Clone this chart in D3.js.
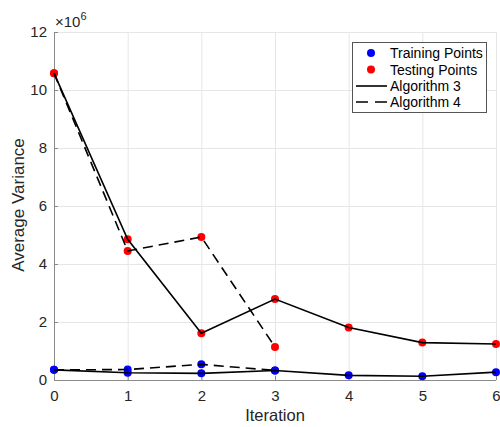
<!DOCTYPE html>
<html>
<head>
<meta charset="utf-8">
<script src="https://cdn.jsdelivr.net/npm/d3@7"></script>
<style>
  html, body { margin: 0; padding: 0; background: #fff; }
  svg { display: block; font-family: "Liberation Sans", Arial, Helvetica, sans-serif; }
</style>
</head>
<body>
<svg id="chart" width="500" height="427"></svg>
<script>
// Average variance (in units of 1e6) per iteration
const iterations = [0, 1, 2, 3, 4, 5, 6];
const alg3Testing = [10.58, 4.85, 1.61, 2.79, 1.81, 1.29, 1.24];
const alg3Training = [0.35, 0.25, 0.23, 0.33, 0.16, 0.13, 0.27];
const alg4Iterations = [0, 1, 2, 3];
const alg4Testing = [10.58, 4.45, 4.93, 1.14];
const alg4Training = [0.35, 0.36, 0.54, 0.33];

const xTicks = [0, 1, 2, 3, 4, 5, 6];
const yTicks = [0, 2, 4, 6, 8, 10, 12];
const legendLabels = ["Training Points", "Testing Points", "Algorithm 3", "Algorithm 4"];

const svg = d3.select("#chart");
const plotLeft = 54, plotRight = 496, plotTop = 32, plotBottom = 380;

const x = d3.scaleLinear().domain([0, 6]).range([plotLeft, plotRight]);
const y = d3.scaleLinear().domain([0, 12]).range([plotBottom, plotTop]);

const textColor = "#262626";
const dash = "10,6";

// grid
const grid = svg.append("g");
grid.selectAll(".gx").data(xTicks).enter().append("line")
  .attr("x1", d => x(d) + 0.5).attr("x2", d => x(d) + 0.5)
  .attr("y1", plotTop).attr("y2", plotBottom)
  .attr("stroke", "#e6e6e6").attr("stroke-width", 1);
grid.selectAll(".gy").data(yTicks).enter().append("line")
  .attr("x1", plotLeft).attr("x2", plotRight)
  .attr("y1", d => y(d) + 0.5).attr("y2", d => y(d) + 0.5)
  .attr("stroke", "#e6e6e6").attr("stroke-width", 1);

// axes
const xAxis = d3.axisBottom(x).tickValues(xTicks).tickSize(-4).tickPadding(10).tickFormat(d3.format("d"));
const yAxis = d3.axisLeft(y).tickValues(yTicks).tickSize(-4).tickPadding(7).tickFormat(d3.format("d"));

const gx = svg.append("g").attr("transform", `translate(0,${plotBottom})`).call(xAxis);
const gy = svg.append("g").attr("transform", `translate(${plotLeft},0)`).call(yAxis);
[gx, gy].forEach(g => {
  g.select(".domain").attr("stroke", "#8a8a8a").attr("stroke-width", 1);
  g.selectAll(".tick line").attr("stroke", "#8a8a8a");
  g.selectAll(".tick text").attr("fill", textColor).attr("font-size", 15)
    .attr("font-family", "Liberation Sans, Arial, sans-serif");
});
gx.select(".domain").attr("d", `M${plotLeft},0.5H${plotRight}`);
gy.select(".domain").attr("d", `M0.5,${plotBottom}V${plotTop}`);

// exponent label
const expo = svg.append("text").attr("x", 55).attr("y", 27)
  .attr("fill", textColor).attr("font-size", 15);
expo.append("tspan").text("×10");
expo.append("tspan").attr("dy", -7).attr("font-size", 11).text("6");

// axis titles
svg.append("text").attr("x", (plotLeft + plotRight) / 2).attr("y", 421)
  .attr("text-anchor", "middle").attr("fill", textColor).attr("font-size", 16.5)
  .text("Iteration");
svg.append("text")
  .attr("transform", `translate(24,${(plotTop + plotBottom) / 2 - 1}) rotate(-90)`)
  .attr("text-anchor", "middle").attr("fill", textColor).attr("font-size", 17)
  .text("Average Variance");

// points
const plot = svg.append("g");
function dots(xs, ys, color) {
  plot.selectAll(null).data(ys).enter().append("circle")
    .attr("cx", (d, i) => x(xs[i])).attr("cy", d => y(d))
    .attr("r", 4).attr("fill", color);
}
dots(iterations, alg3Training, "#0000ff");
dots(alg4Iterations, alg4Training, "#0000ff");
dots(iterations, alg3Testing, "#ff0000");
dots(alg4Iterations, alg4Testing, "#ff0000");

// lines
const line = d3.line().x(d => x(d[0])).y(d => y(d[1]));
function path(xs, ys, dashed) {
  plot.append("path").datum(xs.map((v, i) => [v, ys[i]]))
    .attr("d", line).attr("fill", "none").attr("stroke", "#000")
    .attr("stroke-width", 1.6)
    .attr("stroke-dasharray", dashed ? dash : null);
}
path(iterations, alg3Testing, false);
path(iterations, alg3Training, false);
path(alg4Iterations, alg4Testing, true);
path(alg4Iterations, alg4Training, true);

// legend
const lg = svg.append("g");
lg.append("rect").attr("x", 352.5).attr("y", 42.5).attr("width", 134).attr("height", 70)
  .attr("fill", "#fff").attr("stroke", "#555").attr("stroke-width", 1);
const rowY = [53, 69.5, 86, 102];
legendLabels.forEach((lab, i) => {
  const cy = rowY[i];
  if (i < 2) {
    lg.append("circle").attr("cx", 371).attr("cy", cy).attr("r", 4)
      .attr("fill", i === 0 ? "#0000ff" : "#ff0000");
  } else {
    lg.append("line").attr("x1", 356).attr("x2", 387).attr("y1", cy).attr("y2", cy)
      .attr("stroke", "#000").attr("stroke-width", 1.6)
      .attr("stroke-dasharray", i === 3 ? "12,7" : null);
  }
  lg.append("text").attr("x", 390).attr("y", cy + 5).attr("fill", "#000")
    .attr("font-size", 14).text(lab);
});
</script>
</body>
</html>
